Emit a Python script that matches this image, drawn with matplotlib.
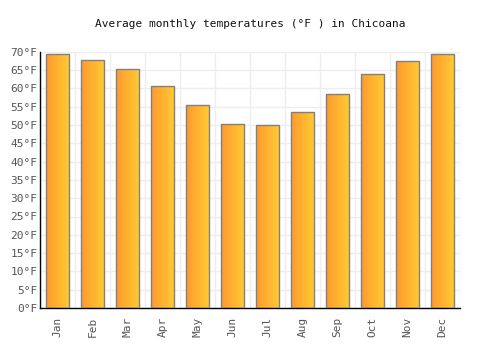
import matplotlib
matplotlib.use("Agg")
import matplotlib.pyplot as plt
import numpy as np
from matplotlib.colors import LinearSegmentedColormap

months = ["Jan", "Feb", "Mar", "Apr", "May", "Jun",
          "Jul", "Aug", "Sep", "Oct", "Nov", "Dec"]
temps_f = [69.3, 67.7, 65.2, 60.6, 55.4, 50.2, 49.9, 53.5, 58.4, 63.8, 67.4, 69.3]
yticks = list(range(0, 75, 5))
ytick_labels = [f"{v}°F" for v in yticks]

FONT = "DejaVu Sans Mono"
cmap = LinearSegmentedColormap.from_list("bar", ["#ff9a2e", "#ffcb33"])
grad = np.linspace(0, 1, 64).reshape(1, -1)

fig = plt.figure(figsize=(5, 3.5), dpi=100)
ax = fig.add_axes([0.08, 0.12, 0.84, 0.732])

x = np.arange(len(months))
width = 0.68
bars = ax.bar(x, temps_f, width=width, facecolor="none",
              edgecolor="#808080", linewidth=1.0, zorder=3)
for b in bars:
    x0 = b.get_x()
    ax.imshow(grad, cmap=cmap, aspect="auto", zorder=2,
              extent=[x0, x0 + b.get_width(), 0, b.get_height()])

ax.set_xlim(-0.5, len(months) - 0.5)
ax.set_ylim(0, 70)
ax.set_xticks(x)
ax.set_xticklabels(months, rotation=90, fontfamily=FONT, fontsize=8, color="#555555")
ax.set_yticks(yticks)
ax.set_yticklabels(ytick_labels, fontfamily=FONT, fontsize=8, color="#555555")
ax.set_xticks(np.arange(-0.5, len(months), 1), minor=True)
ax.tick_params(axis="x", which="both", length=0, pad=6)
ax.tick_params(axis="y", length=0, pad=2)
ax.grid(True, axis="y", color="#eeeeee", linewidth=1, zorder=0)
ax.grid(True, axis="x", which="minor", color="#eeeeee", linewidth=1, zorder=0)
ax.grid(False, axis="x", which="major")
for s in ("top", "right"):
    ax.spines[s].set_visible(False)
for s in ("left", "bottom"):
    ax.spines[s].set_color("black")
    ax.spines[s].set_linewidth(1)

fig.suptitle("Average monthly temperatures (°F ) in Chicoana", y=0.945,
             fontfamily=FONT, fontsize=8, color="#111111")

fig.savefig("out.png", dpi=100)
